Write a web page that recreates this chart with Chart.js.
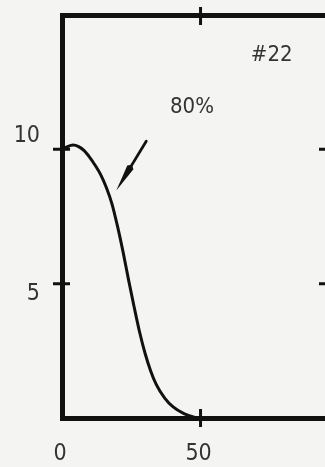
<!DOCTYPE html>
<html>
<head>
<meta charset="utf-8">
<script src="https://cdn.jsdelivr.net/npm/chart.js@4.4.1/dist/chart.umd.min.js"></script>
<style>
  html, body { margin: 0; padding: 0; background: #f4f4f2; overflow: hidden; }
  canvas { display: block; }
</style>
</head>
<body>
<canvas id="chart" width="345" height="467"></canvas>
<script>
// Curve #22, 80% run
const xValues = [0, 2, 4, 6, 8, 10, 12, 14, 16, 18, 20, 22, 24, 26, 28, 30, 32, 34, 37, 40, 44, 48, 49.5];
const yValues = [9.98, 10.10, 10.16, 10.10, 9.95, 9.70, 9.40, 9.05, 8.58, 7.98, 7.15, 6.20, 5.15, 4.15, 3.20, 2.40, 1.75, 1.25, 0.75, 0.42, 0.16, 0.02, 0.0];

// Axis ranges and ticks
const xRange = [0, 96];
const yRange = [0, 15];
const xLabelValues = [0, 50];
const xMarkValues = [50];
const yLabelValues = [5, 10];
const yMarkValues = [5, 10];

// Annotations
const curveLabel = { text: '80%', x: 46.9, y: 11.55 };
const caseLabel = { text: '#22', x: 75.7, y: 13.5 };
const arrowFrom = { x: 30.4, y: 10.3 };
const arrowTo = { x: 19.6, y: 8.47 };

const INK = '#111111';
const TEXT = '#333333';
const FONT = "'Liberation Sans Narrow', 'DejaVu Sans Condensed', 'Liberation Sans', sans-serif";

const points = xValues.map((x, i) => ({ x, y: yValues[i] }));

// Short tick marks crossing the frame lines
const crossTicks = {
  id: 'crossTicks',
  afterDatasetsDraw(chart) {
    const { ctx, chartArea: a, scales: { x, y } } = chart;
    ctx.save();
    ctx.strokeStyle = INK;
    ctx.lineWidth = 3;
    ctx.beginPath();
    xMarkValues.forEach(v => {
      const px = x.getPixelForValue(v);
      ctx.moveTo(px, a.bottom - 9); ctx.lineTo(px, a.bottom + 9);
      ctx.moveTo(px, a.top - 8); ctx.lineTo(px, a.top + 10);
    });
    yMarkValues.forEach(v => {
      const py = y.getPixelForValue(v);
      ctx.moveTo(a.left - 9, py); ctx.lineTo(a.left + 8, py);
      ctx.moveTo(a.right - 9, py); ctx.lineTo(a.right + 9, py);
    });
    ctx.stroke();
    ctx.restore();
  }
};

// Text notes and the pointer arrow
const notes = {
  id: 'notes',
  afterDatasetsDraw(chart) {
    const { ctx, scales: { x, y } } = chart;
    ctx.save();
    ctx.fillStyle = TEXT;
    ctx.font = '22px ' + FONT;
    ctx.textAlign = 'center';
    ctx.textBaseline = 'middle';
    [curveLabel, caseLabel].forEach(l => {
      ctx.fillText(l.text, x.getPixelForValue(l.x), y.getPixelForValue(l.y));
    });

    const x1 = x.getPixelForValue(arrowFrom.x), y1 = y.getPixelForValue(arrowFrom.y);
    const x2 = x.getPixelForValue(arrowTo.x), y2 = y.getPixelForValue(arrowTo.y);
    const ang = Math.atan2(y2 - y1, x2 - x1);
    const headLen = 27, headHalf = 3.6;
    const bx = x2 - headLen * Math.cos(ang), by = y2 - headLen * Math.sin(ang);
    ctx.strokeStyle = INK;
    ctx.fillStyle = INK;
    ctx.lineWidth = 2.8;
    ctx.lineCap = 'round';
    ctx.beginPath();
    ctx.moveTo(x1, y1);
    ctx.lineTo(bx, by);
    ctx.stroke();
    ctx.beginPath();
    ctx.moveTo(x2, y2);
    ctx.lineTo(bx + headHalf * Math.sin(ang), by - headHalf * Math.cos(ang));
    ctx.lineTo(bx - 3 * Math.cos(ang), by - 3 * Math.sin(ang));
    ctx.lineTo(bx - headHalf * Math.sin(ang), by + headHalf * Math.cos(ang));
    ctx.closePath();
    ctx.fill();
    ctx.restore();
  }
};

const frameBorder = { display: true, color: INK, width: 5 };
const noGrid = { display: true, drawOnChartArea: false, drawTicks: false };
const noPad = s => { s.paddingTop = 0; s.paddingBottom = 0; s.paddingLeft = 0; s.paddingRight = 0; };

new Chart(document.getElementById('chart'), {
  type: 'scatter',
  data: {
    datasets: [{
      label: '80%',
      data: points,
      showLine: true,
      borderColor: INK,
      borderWidth: 3,
      pointRadius: 0,
      cubicInterpolationMode: 'monotone',
      clip: false
    }]
  },
  options: {
    responsive: false,
    animation: false,
    layout: { padding: { top: 15, right: 17, left: 0, bottom: 0 } },
    plugins: { legend: { display: false }, tooltip: { enabled: false } },
    scales: {
      x: {
        type: 'linear', position: 'bottom',
        min: xRange[0], max: xRange[1],
        grid: noGrid, border: frameBorder,
        afterBuildTicks: s => { s.ticks = xLabelValues.map(v => ({ value: v })); },
        afterFit: s => { s.height = 49; noPad(s); },
        ticks: {
          color: TEXT, padding: 22, labelOffset: -2, maxRotation: 0,
          font: { family: FONT, size: 23 },
          callback: v => String(v)
        }
      },
      x2: {
        type: 'linear', position: 'top',
        min: xRange[0], max: xRange[1],
        grid: noGrid, border: frameBorder,
        ticks: { display: false },
        afterFit: s => { s.height = 0; noPad(s); }
      },
      y: {
        type: 'linear', position: 'left',
        min: yRange[0], max: yRange[1],
        grid: noGrid, border: frameBorder,
        afterBuildTicks: s => { s.ticks = yLabelValues.map(v => ({ value: v })); },
        afterFit: s => { s.width = 62; noPad(s); },
        ticks: {
          color: TEXT, padding: 22,
          font: ctx => ({ family: FONT, size: 23, lineHeight: ctx.tick && ctx.tick.value === 10 ? '27px' : '20px' }),
          callback: v => (v === 10 ? ['10', ''] : ['', String(v)])
        }
      },
      y2: {
        type: 'linear', position: 'right',
        min: yRange[0], max: yRange[1],
        grid: noGrid, border: frameBorder,
        ticks: { display: false },
        afterFit: s => { s.width = 0; noPad(s); }
      }
    }
  },
  plugins: [crossTicks, notes]
});
</script>
</body>
</html>
